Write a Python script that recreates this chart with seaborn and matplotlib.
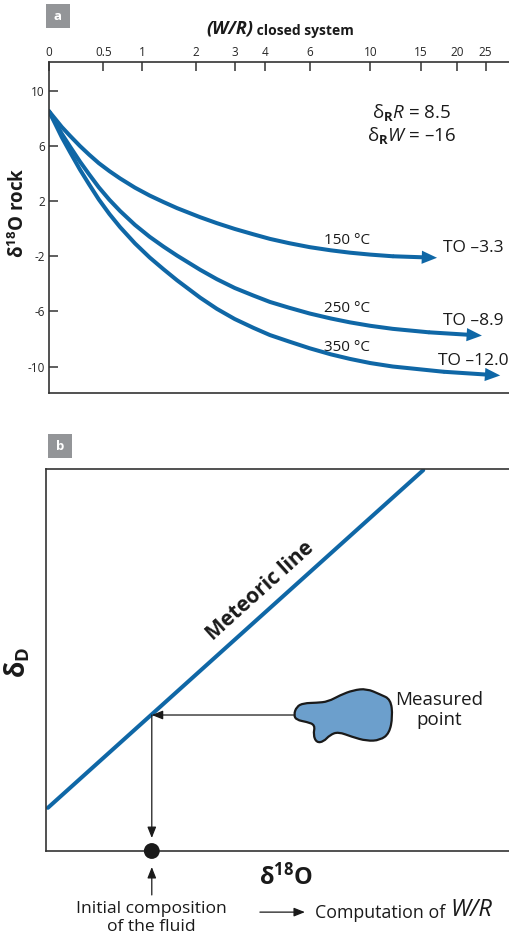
import numpy as np
import matplotlib
matplotlib.use("Agg")
import matplotlib.pyplot as plt
from matplotlib.patches import Rectangle, PathPatch
from matplotlib.path import Path
import seaborn as sns

# --- panel a: d18O of the rock vs closed-system W/R ---
wr_150 = [0, 0.05, 0.1, 0.17, 0.26, 0.35, 0.45, 0.57, 0.7, 0.9, 1.12, 1.35, 1.6,
          2.09, 2.5, 3.0, 3.6, 4.2, 5.0, 6.0, 7.2, 8.45, 10, 12]
d18o_150 = [8.5, 7.92, 7.36, 6.72, 5.98, 5.35, 4.74, 4.16, 3.63, 2.96, 2.39, 1.92, 1.48,
            0.82, 0.39, -0.03, -0.42, -0.75, -1.06, -1.35, -1.58, -1.75, -1.89, -2.01]
tip_150 = (17.1, -2.12)

wr_250 = [0, 0.05, 0.1, 0.17, 0.26, 0.35, 0.45, 0.57, 0.7, 0.9, 1.12, 1.35, 1.6,
          2.09, 2.5, 3.0, 3.6, 4.2, 5.0, 6.0, 7.2, 8.45, 10, 12, 16]
d18o_250 = [8.5, 7.66, 6.87, 5.94, 4.85, 3.92, 2.99, 2.08, 1.27, 0.26, -0.60, -1.31, -1.96,
            -2.99, -3.67, -4.31, -4.86, -5.32, -5.74, -6.16, -6.52, -6.80, -7.05, -7.27, -7.52]
tip_250 = (24.3, -7.76)

wr_350 = [0, 0.05, 0.1, 0.17, 0.26, 0.35, 0.45, 0.57, 0.7, 0.9, 1.12, 1.35, 1.6,
          2.09, 2.5, 3.0, 3.6, 4.2, 5.0, 6.0, 7.2, 8.45, 10, 12, 18]
d18o_350 = [8.5, 7.54, 6.62, 5.54, 4.27, 3.19, 2.11, 1.05, 0.10, -1.08, -2.10, -2.95, -3.75,
            -5.01, -5.82, -6.56, -7.20, -7.72, -8.19, -8.68, -9.12, -9.45, -9.75, -10.0, -10.38]
tip_350 = (28.0, -10.65)

temps = ["150 °C", "250 °C", "350 °C"]
final_labels = ["TO –3.3", "TO –8.9", "TO –12.0"]

wr_ticks = [0, 0.5, 1, 2, 3, 4, 6, 10, 15, 20, 25]
wr_ticklabels = ["0", "0.5", "1", "2", "3", "4", "6", "10", "15", "20", "25"]
rock_ticks = [10, 6, 2, -2, -6, -10]
rock_ticklabels = ["10", "6", "2", "-2", "-6", "-10"]

# --- panel b: schematic dD vs d18O (arbitrary 0-10 units) ---
meteoric_d18o = [0.04, 8.13]
meteoric_dD = [1.13, 9.97]
fluid_d18o = 2.28          # initial composition of the fluid
measured_d18o = 5.34       # left edge of the measured cloud
measured_dD = 3.56
blob_x = [5.34, 5.40, 5.55, 5.83, 6.08, 6.34, 6.62, 6.91, 7.20, 7.43, 7.47, 7.40,
          7.20, 6.91, 6.59, 6.30, 6.12, 5.98, 5.83, 5.76, 5.80, 5.62, 5.40]
blob_y = [3.56, 3.78, 3.87, 3.88, 3.91, 4.08, 4.21, 4.25, 4.10, 3.97, 3.52, 3.08,
          2.90, 2.88, 2.99, 3.12, 3.04, 2.86, 2.84, 3.04, 3.30, 3.38, 3.43]

BLUE = "#0f67a6"
INK = "#1a1a1a"
SPINE = "#333333"
GREY = "#939598"

sns.set_theme(style="white")
plt.rcParams["font.family"] = ["Open Sans", "DejaVu Sans"]
plt.rcParams.update({
    "mathtext.fontset": "custom",
    "mathtext.rm": "Open Sans",
    "mathtext.it": "Open Sans:italic",
    "mathtext.bf": "Open Sans:bold",
    "text.color": INK,
})

W, H = 510, 941
fig = plt.figure(figsize=(W / 100, H / 100), dpi=100)


def box(px_left, px_top, px_w, px_h):
    return [px_left / W, 1 - (px_top + px_h) / H, px_w / W, px_h / H]


# ================= panel a =================
ax1 = fig.add_axes(box(49, 62, 461, 331))
for wr, d, tip in [(wr_150, d18o_150, tip_150),
                   (wr_250, d18o_250, tip_250),
                   (wr_350, d18o_350, tip_350)]:
    sns.lineplot(x=wr, y=d, ax=ax1, color=BLUE, linewidth=2.9, sort=False)
    ax1.annotate("", xy=tip, xytext=(wr[-1], d[-1]),
                 arrowprops=dict(arrowstyle="simple,head_length=1.1,head_width=0.95,tail_width=0.29",
                                 mutation_scale=10, color=BLUE, lw=0, shrinkA=0, shrinkB=0))

ax1.set_xscale("function", functions=(np.log1p, np.expm1))
ax1.set_xlim(0, 30.2)
ax1.set_ylim(-11.92, 12.07)
ax1.set_xticks(wr_ticks, labels=wr_ticklabels)
ax1.set_yticks(rock_ticks, labels=rock_ticklabels)
ax1.tick_params(axis="x", which="both", top=True, labeltop=True, bottom=False,
                labelbottom=False, direction="in", length=6.5, width=1.1,
                color=SPINE, labelsize=8.5, pad=2)
ax1.tick_params(axis="y", left=True, direction="in", length=6.5, width=1.1,
                color=SPINE, labelsize=8.5, pad=3)
ax1.minorticks_off()
ax1.spines["right"].set_visible(False)
for s in ["top", "left", "bottom"]:
    ax1.spines[s].set_linewidth(1.2)
    ax1.spines[s].set_color(SPINE)
ax1.set_xlabel("")
ax1.set_ylabel("")

t1 = ax1.text((253 - 49) / 461, 1 + (62 - 34) / 331, "(W/R)", transform=ax1.transAxes,
              ha="right", va="baseline", fontsize=13, fontweight="bold", fontstyle="italic")
ax1.annotate(" closed system", xy=(1, 0), xycoords=t1, ha="left", va="bottom",
             fontsize=10, fontweight="bold")

ax1.text((19 - 49) / 461, (393 - 213) / 331, r"δ$^{\mathbf{18}}$O rock", transform=ax1.transAxes,
         rotation=90, ha="center", va="center", fontsize=13.5, fontweight="bold")

ax1.text(0.787, 0.831, r"δ${}_{\mathbf{R}}\mathit{R}$ = 8.5", transform=ax1.transAxes,
         ha="center", va="baseline", fontsize=13.5)
ax1.text(0.787, 0.761, r"δ${}_{\mathbf{R}}\mathit{W}$ = –16", transform=ax1.transAxes,
         ha="center", va="baseline", fontsize=13.5)

for lab, ypx in zip(temps, [241, 308, 347.5]):
    ax1.text((347 - 49) / 461, (393 - ypx) / 331, lab, transform=ax1.transAxes,
             ha="center", va="center", fontsize=11)
for lab, ypx in zip(final_labels, [248, 321, 361]):
    ax1.text((473 - 49) / 461, (393 - ypx) / 331, lab, transform=ax1.transAxes,
             ha="center", va="center", fontsize=12.5)

# ================= panel b =================
ax2 = fig.add_axes(box(46, 469, 464, 382))
ax2.set_xlim(0, 10)
ax2.set_ylim(0, 10)
sns.lineplot(x=meteoric_d18o, y=meteoric_dD, ax=ax2, color=BLUE, linewidth=2.9)

pts = np.column_stack([blob_x, blob_y])
mids = (pts + np.roll(pts, -1, axis=0)) / 2
verts = [mids[-1]]
codes = [Path.MOVETO]
for p, m in zip(pts, mids):
    verts += [p, m]
    codes += [Path.CURVE3, Path.CURVE3]
verts.append(mids[-1])
codes.append(Path.CLOSEPOLY)
ax2.add_patch(PathPatch(Path(verts, codes), facecolor="#6c9fcc", edgecolor=INK, lw=1.6, zorder=3))

thin_arrow = dict(arrowstyle="-|>,head_length=0.55,head_width=0.22", mutation_scale=12,
                  color=INK, lw=0.9, shrinkA=0, shrinkB=0)
ax2.annotate("", xy=(fluid_d18o, measured_dD), xytext=(measured_d18o, measured_dD),
             arrowprops=thin_arrow)
ax2.annotate("", xy=(fluid_d18o, 0.34), xytext=(fluid_d18o, measured_dD),
             arrowprops=thin_arrow)
sns.scatterplot(x=[fluid_d18o], y=[0], ax=ax2, s=130, color=INK, clip_on=False,
                zorder=5, edgecolor="none")
ax2.annotate("", xy=(fluid_d18o, -0.42), xytext=(fluid_d18o, -1.15),
             arrowprops=thin_arrow, annotation_clip=False)
ax2.annotate("", xy=(5.58, -1.60), xytext=(4.61, -1.60),
             arrowprops=thin_arrow, annotation_clip=False)

ax2.text(fluid_d18o, -1.30, "Initial composition\nof the fluid", ha="center", va="top",
         fontsize=12.6, linespacing=1.2, clip_on=False)
t2 = ax2.text(5.80, -1.754, "Computation of ", ha="left", va="baseline", fontsize=12.8)
ax2.annotate("W/R", xy=(1, 0), xycoords=t2, ha="left", va="bottom", fontsize=17,
             fontstyle="italic")

ax2.text(8.47, 3.69, "Measured\npoint", ha="center", va="center", fontsize=13.5,
         linespacing=1.1)
ax2.text(4.62, 6.8, "Meteoric line", ha="center", va="center", rotation=42,
         rotation_mode="anchor", fontsize=15, fontweight="bold")

ax2.text((286 - 46) / 464, (851 - 877) / 382, r"δ$^{\mathbf{18}}$O", transform=ax2.transAxes,
         ha="center", va="center", fontsize=17, fontweight="bold")
ax2.text((17 - 46) / 464, (851 - 662) / 382, r"δ${}_{\mathbf{D}}$", transform=ax2.transAxes,
         rotation=90, ha="center", va="center", fontsize=19, fontweight="bold")

ax2.set_xticks([])
ax2.set_yticks([])
ax2.set_xlabel("")
ax2.set_ylabel("")
ax2.spines["right"].set_visible(False)
for s in ["top", "left", "bottom"]:
    ax2.spines[s].set_linewidth(1.2)
    ax2.spines[s].set_color(SPINE)

# panel letters
for letter, (lx, ly) in [("a", (46, 4)), ("b", (48, 434))]:
    fig.add_artist(Rectangle((lx / W, 1 - (ly + 24) / H), 24 / W, 24 / H,
                             transform=fig.transFigure, color=GREY, lw=0))
    fig.text((lx + 12) / W, 1 - (ly + 12) / H, letter, ha="center", va="center",
             color="white", fontsize=9.5, fontweight="bold")

fig.savefig("out.png", dpi=100)
